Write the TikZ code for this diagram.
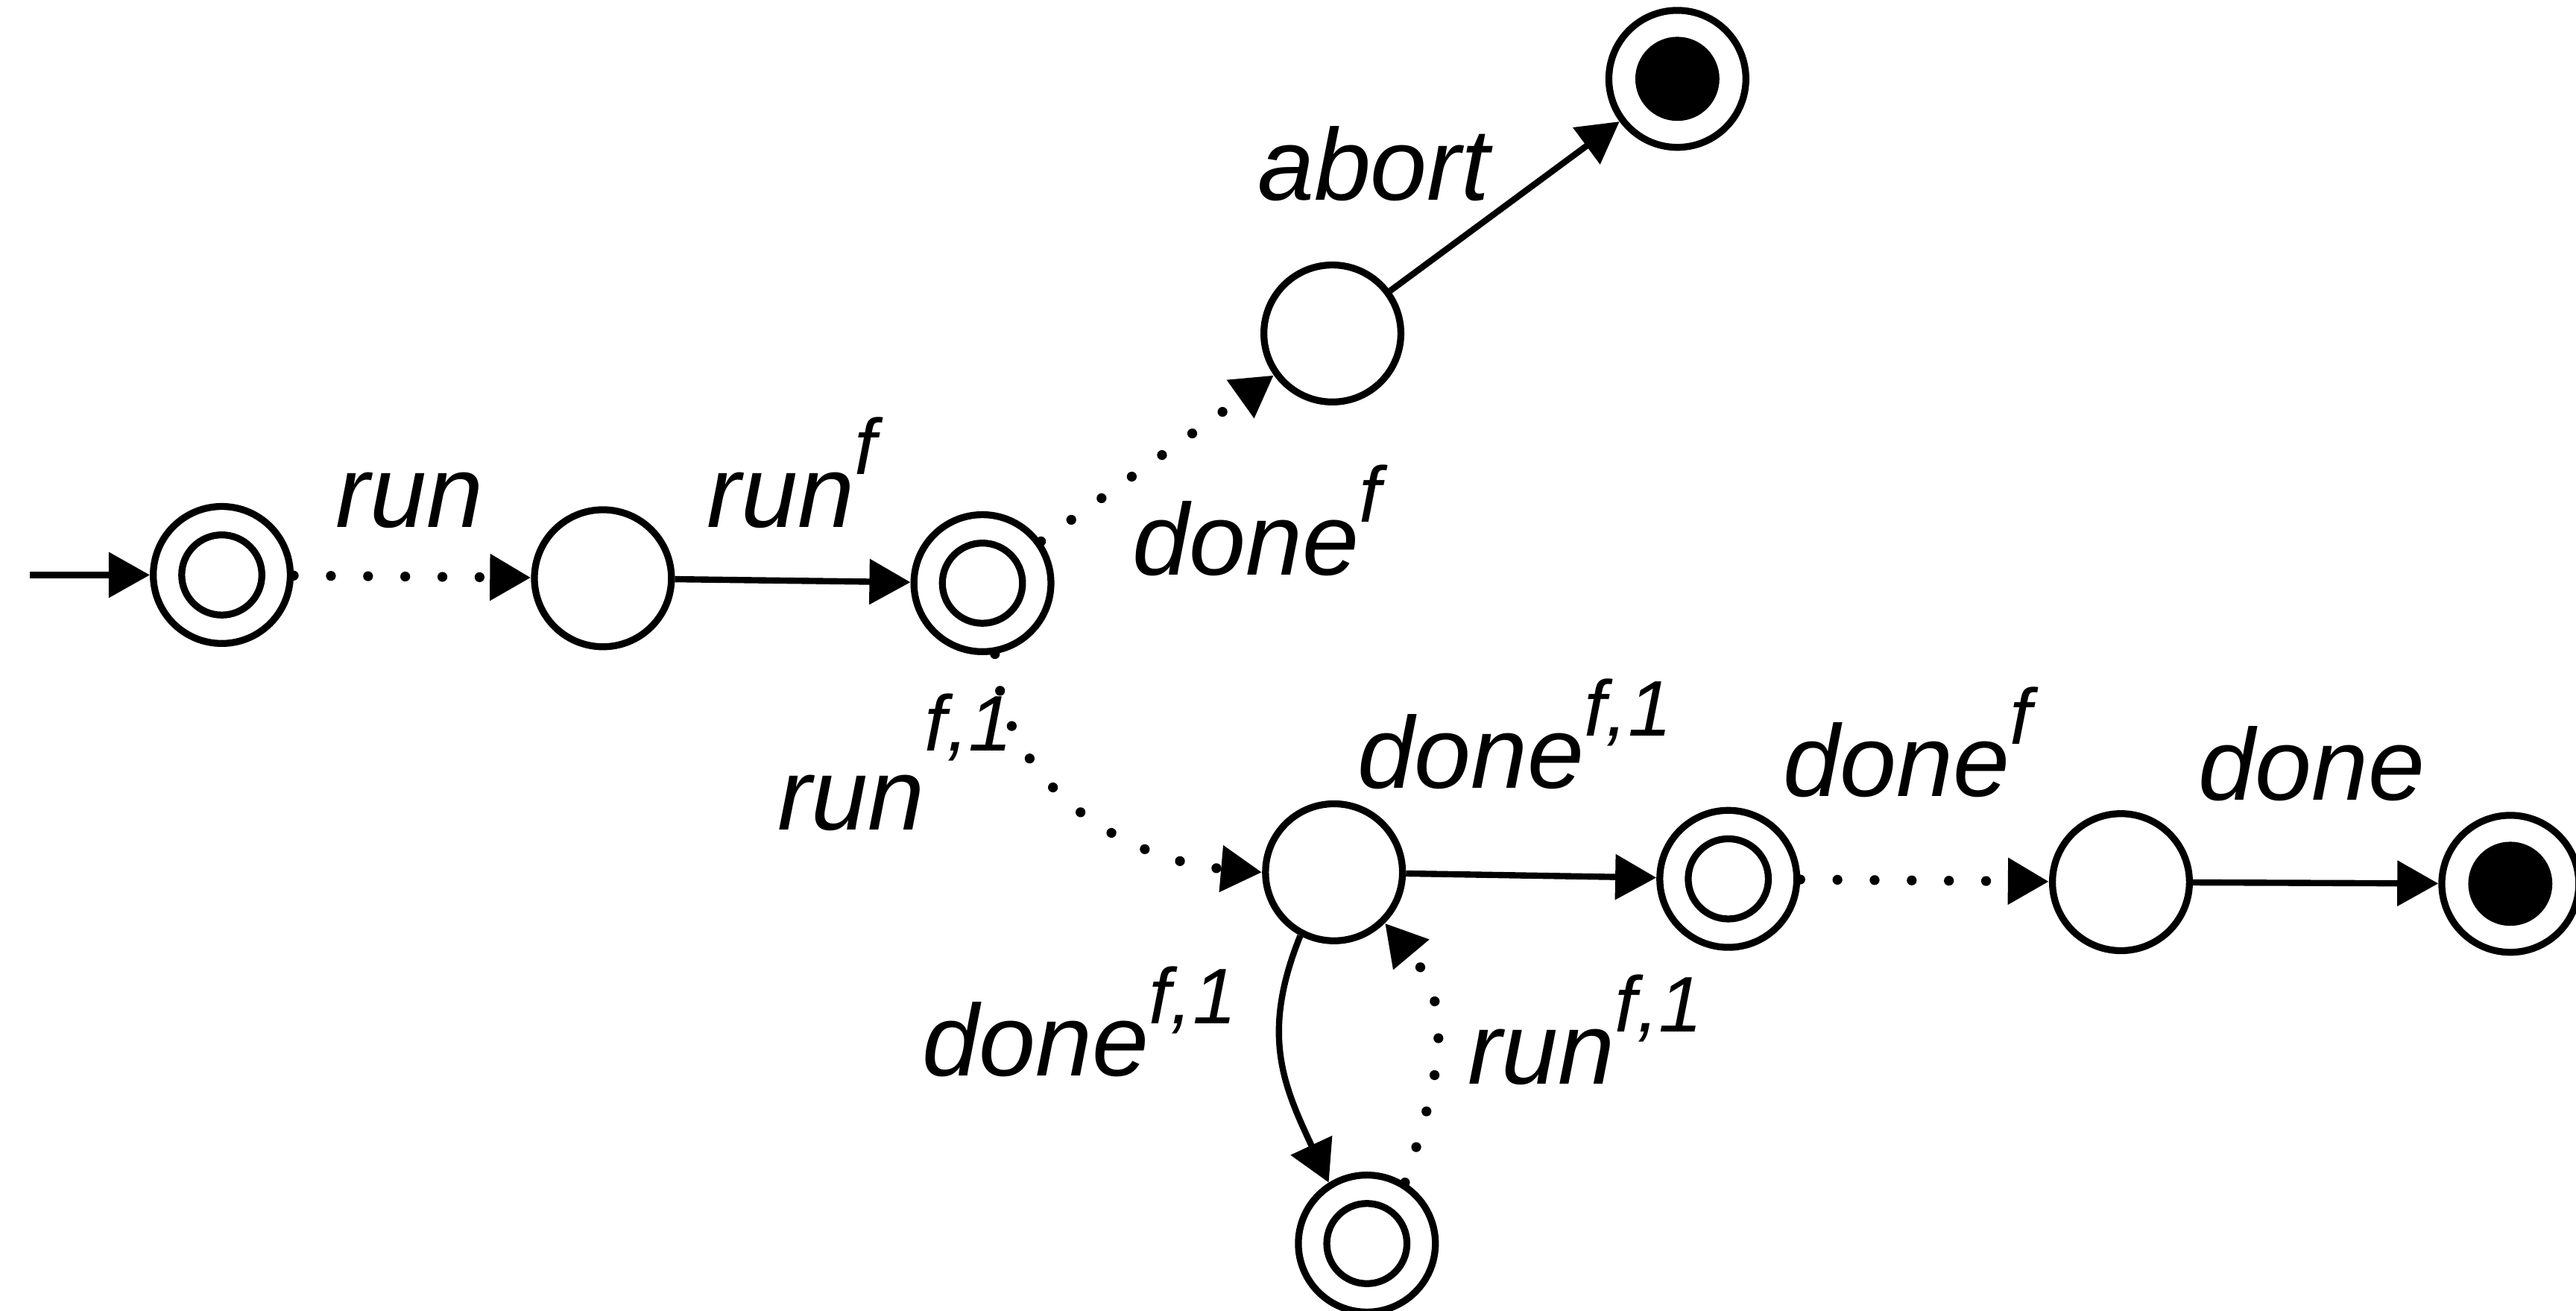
\documentclass[tikz,border=0pt]{standalone}
\usepackage{fontspec}
\setmainfont{Liberation Sans}
\usetikzlibrary{arrows.meta}
\newcommand\supx[2][16pt]{\raisebox{#1}{\fontsize{24}{27}\selectfont #2}}
\tikzset{
  st/.style={circle, draw, line width=2.1pt, minimum size=41.7pt, inner sep=0pt},
  acc/.style={st, path picture={\draw[line width=2.1pt] (path picture bounding box.center) circle (12.2pt);}},
  fin/.style={st, path picture={\fill (path picture bounding box.center) circle (12.8pt);}},
  tip/.style={-{Triangle[length=12.5pt,width=13.5pt]}},
  solidarr/.style={tip, line width=1.9pt},
  dotarr/.style={tip, line width=3pt, line cap=round, dash pattern=on 0.01pt off 11.3pt},
  lbl/.style={anchor=base west, inner sep=0pt, font=\fontsize{31}{36}\selectfont\itshape}
}
\begin{document}
\begin{tikzpicture}[x=0.5pt, y=-0.5pt]
\useasboundingbox (0,0) rectangle (1568,798);
\coordinate (start) at (18,350);
\node[acc] (n1) at (135,350) {};
\node[st]  (n2) at (367,352) {};
\node[acc] (n3) at (598,355) {};
\node[st]  (n4) at (811,203) {};
\node[fin] (n5) at (1021,48) {};
\node[st]  (n6) at (812,531) {};
\node[acc] (n7) at (1052,535) {};
\node[st]  (n8) at (1291,537) {};
\node[fin] (n9) at (1528,538) {};
\node[acc] (n10) at (832,757) {};

\draw[solidarr] (start) -- (n1);
\draw[dotarr] (n1) -- (n2);
\draw[solidarr] (n2) -- (n3);
\draw[dotarr] (n3) -- (n4);
\draw[solidarr] (n4) -- (n5);
\draw[dotarr] (n3.-80) to[out=-87, in=175] (n6.west);
\draw[solidarr] (n6) -- (n7);
\draw[dotarr] (n7) -- (n8);
\draw[solidarr] (n8) -- (n9);
\draw[solidarr] (n6.-118) to[out=-112, in=115, looseness=1.1] (n10.122);
\draw[dotarr] (n10.58) to[out=72, in=-50, looseness=1.1] (n6.-45);

\node[lbl] (l1) at (204,321) {run};
\node[lbl] (l2) at (430,321) {run\supx{f}};
\node[lbl] (l3) at (689,350) {done\supx{f}};
\node[lbl] (l4) at (765,122) {abort};
\node[lbl] (l5) at (473,505) {run\supx[24pt]{f,1}};
\node[lbl] (l6) at (826,480) {done\supx{f,1}};
\node[lbl] (l7) at (1085,485) {done\supx{f}};
\node[lbl] (l8) at (1338,487) {done};
\node[lbl] (l9) at (561,655) {done\supx{f,1}};
\node[lbl] (l10) at (893,660) {run\supx{f,1}};
\end{tikzpicture}
\end{document}
